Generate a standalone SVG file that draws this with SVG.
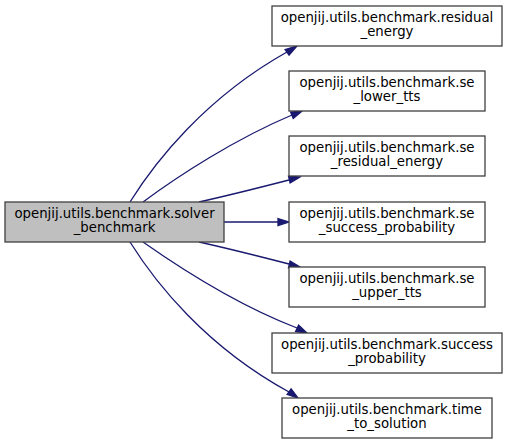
<svg xmlns="http://www.w3.org/2000/svg" width="508" height="444" viewBox="0 0 508 444">
<style>
.node rect{fill:#ffffff;stroke:#404040;stroke-width:1.3}
.node.cur rect{fill:#bfbfbf}
.node text{font-family:"DejaVu Sans",sans-serif;font-size:13.3px;text-anchor:middle;fill:#000}
.edges path{fill:none;stroke:#191970;stroke-width:1.3}
.edges polygon{fill:#191970;stroke:#191970;stroke-width:1.3}
</style>
<rect width="508" height="444" fill="#ffffff"/>
<g class="edges">
<path d="M130,202 C155,162 205,98 287,52"/>
<polygon points="289.1,55.2 297,46 285.1,49.6"/>
<path d="M143,202 C178,176 235,139 292,115"/>
<polygon points="293.2,118.4 302,111 290.6,112"/>
<path d="M199,202 C226,196 258,188 289,180"/>
<polygon points="290.1,183 300,177 288.5,176.2"/>
<path d="M224,222 L278,222"/>
<polygon points="278,218.5 289,222 278,225.5"/>
<path d="M199,242 C226,248 258,256 289,264"/>
<polygon points="290.1,261 300,267 288.5,267.8"/>
<path d="M143,242 C180,268 240,306 297,328"/>
<polygon points="295.6,331.5 307,333 298.6,325.2"/>
<path d="M130,242 C155,282 205,346 289,392"/>
<polygon points="287.1,394.4 298,398 291.1,388.8"/>
</g>
<g id="node1" class="node cur"><rect x="5" y="202" width="219" height="40"/><text x="114.5" y="218">openjij.utils.benchmark.solver</text><text x="114.5" y="232">_benchmark</text></g>
<g id="node2" class="node"><rect x="272" y="6" width="230" height="40"/><text x="387" y="22">openjij.utils.benchmark.residual</text><text x="387" y="36">_energy</text></g>
<g id="node3" class="node"><rect x="289" y="71" width="196" height="40"/><text x="387" y="87">openjij.utils.benchmark.se</text><text x="387" y="101">_lower_tts</text></g>
<g id="node4" class="node"><rect x="289" y="136" width="196" height="40"/><text x="387" y="152">openjij.utils.benchmark.se</text><text x="387" y="166">_residual_energy</text></g>
<g id="node5" class="node"><rect x="289" y="202" width="196" height="40"/><text x="387" y="218">openjij.utils.benchmark.se</text><text x="387" y="232">_success_probability</text></g>
<g id="node6" class="node"><rect x="289" y="267" width="196" height="40"/><text x="387" y="283">openjij.utils.benchmark.se</text><text x="387" y="297">_upper_tts</text></g>
<g id="node7" class="node"><rect x="272" y="333" width="230" height="40"/><text x="387" y="349">openjij.utils.benchmark.success</text><text x="387" y="363">_probability</text></g>
<g id="node8" class="node"><rect x="282" y="398" width="210" height="40"/><text x="387" y="414">openjij.utils.benchmark.time</text><text x="387" y="428">_to_solution</text></g>
</svg>
